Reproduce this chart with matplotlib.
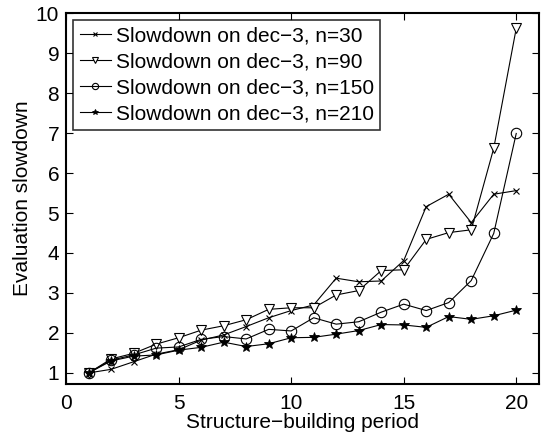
import matplotlib
matplotlib.use("Agg")
import matplotlib.pyplot as plt

plt.rcParams['font.family'] = ['Liberation Sans', 'DejaVu Sans']
plt.rcParams['font.size'] = 15

periods = list(range(1, 21))
labels = ["Slowdown on dec\u22123, n=30", "Slowdown on dec\u22123, n=90",
          "Slowdown on dec\u22123, n=150", "Slowdown on dec\u22123, n=210"]
n30 = [1.0, 1.09, 1.28, 1.47, 1.58, 1.82, 1.95, 2.16, 2.38, 2.56, 2.70, 3.37,
       3.28, 3.30, 3.81, 5.16, 5.47, 4.76, 5.47, 5.56]
n90 = [1.0, 1.35, 1.49, 1.72, 1.88, 2.07, 2.18, 2.33, 2.59, 2.63, 2.63, 2.95,
       3.06, 3.56, 3.58, 4.34, 4.51, 4.58, 6.62, 9.62]
n150 = [1.0, 1.32, 1.45, 1.62, 1.65, 1.84, 1.91, 1.85, 2.09, 2.05, 2.38, 2.22,
        2.28, 2.52, 2.72, 2.56, 2.76, 3.31, 4.49, 6.99]
n210 = [1.0, 1.30, 1.42, 1.45, 1.57, 1.64, 1.77, 1.66, 1.73, 1.88, 1.89, 1.97,
        2.06, 2.21, 2.20, 2.14, 2.41, 2.34, 2.43, 2.57]
xticks = [0, 5, 10, 15, 20]
yticks = [1, 2, 3, 4, 5, 6, 7, 8, 9, 10]

fig = plt.figure(figsize=(5.42, 4.37), dpi=100)
ax = fig.add_axes([0.122, 0.121, 0.872, 0.849])

ax.plot(periods, n30, color='black', lw=0.8, marker='x', ms=4.5, mew=0.8, label=labels[0])
ax.plot(periods, n90, color='black', lw=0.8, marker='v', ms=7.5, mfc='white', mew=0.8, label=labels[1])
ax.plot(periods, n150, color='black', lw=0.8, marker='o', ms=7.5, mfc='none', mew=0.8, label=labels[2])
ax.plot(periods, n210, color='black', lw=0.8, marker='*', ms=7, mfc='black', mew=0.6, label=labels[3])

ax.set_xlim(0, 21)
ax.set_ylim(0.72, 10)
ax.set_xticks(xticks)
ax.set_yticks(yticks)
ax.tick_params(axis='both', direction='in', top=True, right=True, length=5, width=0.8, labelsize=15)
ax.tick_params(axis='x', pad=7)
ax.tick_params(axis='y', pad=5)
for s in ax.spines.values():
    s.set_linewidth(1.5)

ax.set_xlabel("Structure\u2212building period", fontsize=15, labelpad=0)
ax.set_ylabel("Evaluation slowdown", fontsize=15, labelpad=3)

leg = ax.legend(loc='upper left', fontsize=15, frameon=True, fancybox=False,
                edgecolor='black', handlelength=1.5, labelspacing=0.33,
                borderaxespad=0.35, handletextpad=0.25, borderpad=0.3,
                markerscale=0.6)
leg.get_frame().set_linewidth(1.2)

fig.savefig("out.png", dpi=100)
